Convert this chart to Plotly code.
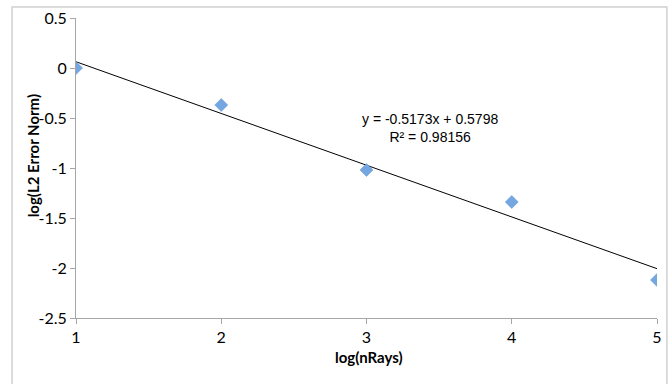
import plotly.graph_objects as go

# log10 of ray count vs log10 of the L2 error norm
log_nrays = [1, 2, 3, 4, 5]
log_l2_error = [0.0, -0.37, -1.02, -1.34, -2.12]

# linear trendline fitted to the data
slope = -0.5173
intercept = 0.5798
r_squared = 0.98156

x_ticks = [1, 2, 3, 4, 5]
y_ticks = [0.5, 0, -0.5, -1, -1.5, -2, -2.5]

trend_x = [log_nrays[0], log_nrays[-1]]
trend_y = [slope * v + intercept for v in trend_x]

fig = go.Figure()
fig.add_trace(go.Scatter(
    x=trend_x, y=trend_y, mode="lines",
    line=dict(color="black", width=1), hoverinfo="skip", showlegend=False,
))
fig.add_trace(go.Scatter(
    x=log_nrays, y=log_l2_error, mode="markers",
    marker=dict(symbol="diamond", size=10, color="#74A7E2",
                line=dict(color="#6196D6", width=0.5)),
    showlegend=False,
))

fig.add_annotation(
    x=3.44, y=-0.60, xref="x", yref="y", showarrow=False,
    text=f"y = {slope}x + {intercept}<br>R² = {r_squared}",
    font=dict(family="Liberation Sans, Arial", size=14, color="black"),
    align="center",
)

# plot-area margins in pixels
L, R, T, B = 76, 6, 18, 66
W, H = 668 - L - R, 384 - T - B

title_font = dict(family="Lato, Open Sans, sans-serif", size=15, color="black")
fig.add_annotation(
    text="<b>log(nRays)</b>", xref="paper", yref="paper",
    x=(372 - L) / W, y=(384 - B - 357) / H, xanchor="center", yanchor="middle",
    showarrow=False, font=title_font,
)
fig.add_annotation(
    text="<b>log(L2 Error Norm)</b>", xref="paper", yref="paper",
    x=(33 - L) / W, y=(384 - B - 156) / H, xanchor="center", yanchor="middle",
    textangle=-90, showarrow=False, font=title_font,
)

# outer chart-area frame (runs past the right and bottom edges)
fig.add_shape(
    type="rect", xref="paper", yref="paper", layer="below",
    x0=(11.5 - L) / W, x1=(672 - L) / W,
    y0=(384 - B - 390) / H, y1=1 + (T - 7) / H,
    line=dict(color="#D0D0D0", width=1.5), fillcolor="rgba(0,0,0,0)",
)

tick_font = dict(family="Lato, Open Sans, sans-serif", size=16, color="black")

fig.update_layout(
    width=668, height=384,
    margin=dict(l=L, r=R, t=T, b=B),
    paper_bgcolor="white", plot_bgcolor="white",
    xaxis=dict(
        range=[1, 5], tickvals=x_ticks, ticktext=[str(v) for v in x_ticks],
        showgrid=False, zeroline=False, showline=True, linecolor="#A6A6A6",
        linewidth=1, ticks="outside", ticklen=5, tickcolor="#A6A6A6",
        tickfont=tick_font,
    ),
    yaxis=dict(
        range=[-2.5, 0.5], tickvals=y_ticks, ticktext=[str(v) for v in y_ticks],
        showgrid=False, zeroline=False, showline=True, linecolor="#A6A6A6",
        linewidth=1, ticks="outside", ticklen=5, tickcolor="#A6A6A6",
        tickfont=tick_font,
    ),
)

fig.write_html("out.html")
